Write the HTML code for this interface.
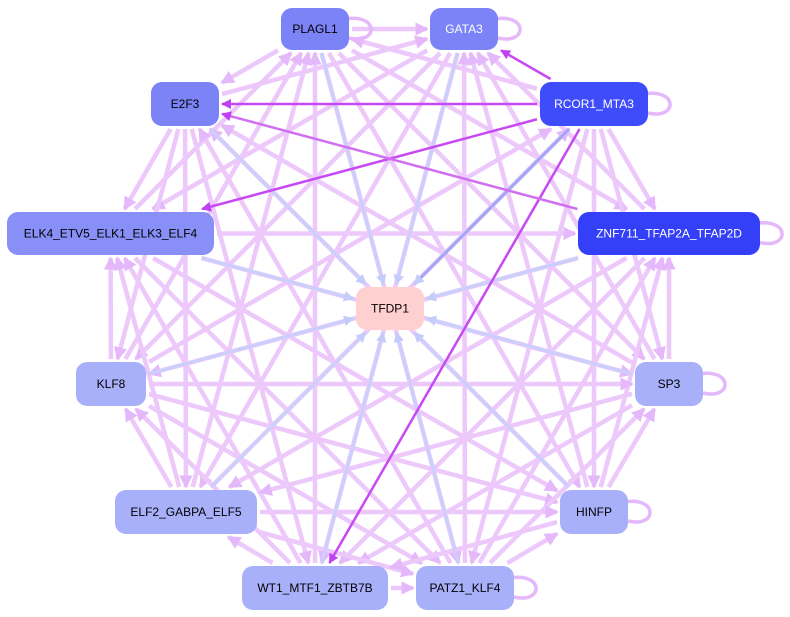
<!DOCTYPE html>
<html><head><meta charset="utf-8"><style>
html,body{margin:0;padding:0;background:#fff;}
svg{display:block;}
text{font-family:"Liberation Sans",sans-serif;font-size:12px;}
</style></head><body>
<svg id="s" width="790" height="617" viewBox="0 0 790 617" xmlns="http://www.w3.org/2000/svg">
<defs>
<marker id="ap" markerWidth="3" markerHeight="3" refX="2.6" refY="1.5" orient="auto" markerUnits="strokeWidth"><path d="M0,0 L3,1.5 L0,3z" fill="#e4b8fa"/></marker>
<marker id="ad" markerWidth="4" markerHeight="4" refX="3.6" refY="2" orient="auto" markerUnits="strokeWidth"><path d="M0,0 L4,2 L0,4z" fill="#c040f4"/></marker>
<marker id="ab" markerWidth="3.5" markerHeight="3.5" refX="3" refY="1.75" orient="auto" markerUnits="strokeWidth"><path d="M0,0 L3.5,1.75 L0,3.5z" fill="#c4ccfa"/></marker>
</defs>
<g id="e"></g>
<g id="n"></g>
</svg>
<script>
var N={
PLAGL1:[281,8,68,42,"#7b83f7","#000"],
GATA3:[430,8,68,42,"#7b83f7","#fff"],
RCOR1_MTA3:[540,82,108,44,"#3f4cfc","#fff"],
E2F3:[151,82,68,44,"#7b83f7","#000"],
ELK4_ETV5_ELK1_ELK3_ELF4:[7,212,207,43,"#8890f8","#000"],
ZNF711_TFAP2A_TFAP2D:[578,212,182,43,"#3340f8","#fff"],
TFDP1:[356,287,68,43,"#ffd0d0","#000"],
KLF8:[76,362,70,44,"#a8b0fa","#000"],
SP3:[635,362,68,44,"#a8b0fa","#000"],
ELF2_GABPA_ELF5:[115,490,142,44,"#a8b0fa","#000"],
HINFP:[560,490,68,44,"#a8b0fa","#000"],
WT1_MTF1_ZBTB7B:[242,566,146,44,"#a8b0fa","#000"],
PATZ1_KLF4:[416,566,98,44,"#a8b0fa","#000"]};
var ns="http://www.w3.org/2000/svg";
function c(k){var b=N[k];return [b[0]+b[2]/2,b[1]+b[3]/2];}
function clipT(k,dx,dy){var b=N[k];var hw=b[2]/2+3,hh=b[3]/2+3;var t=Math.min(hw/Math.abs(dx||1e-9),hh/Math.abs(dy||1e-9));return t;}
var E=document.getElementById("e"),G=document.getElementById("n");
var keys=Object.keys(N).filter(function(k){return k!="TFDP1";});
var dark={"GATA3|RCOR1_MTA3":1,"E2F3|RCOR1_MTA3":1,"ELK4_ETV5_ELK1_ELK3_ELF4|RCOR1_MTA3":1,"WT1_MTF1_ZBTB7B|RCOR1_MTA3":1,"E2F3|ZNF711_TFAP2A_TFAP2D":1};
function line(a,b,col,w,m){var p=c(a),q=c(b);var l=document.createElementNS(ns,"line");
var dx=q[0]-p[0],dy=q[1]-p[1];var t=clipT(b,dx,dy);var t0=clipT(a,dx,dy);
l.setAttribute("x1",p[0]+dx*t0);l.setAttribute("y1",p[1]+dy*t0);l.setAttribute("x2",q[0]-dx*t);l.setAttribute("y2",q[1]-dy*t);
l.setAttribute("stroke",col);l.setAttribute("stroke-width",w);l.setAttribute("marker-end","url(#"+m+")");E.appendChild(l);}
for(var i=0;i<keys.length;i++)for(var j=i+1;j<keys.length;j++){
var a=keys[i],b=keys[j];var k1=a+"|"+b,k2=b+"|"+a;
if(dark[k1]||dark[k2])continue;
if((i+j)%2)line(a,b,"#ecc8fb",4.5,"ap");else line(b,a,"#ecc8fb",4.5,"ap");}
keys.forEach(function(k){line(k,"TFDP1",k=="RCOR1_MTA3"?"#a0a8f4":"#c8d0fb",3,"ab");});
for(var d in dark){var p=d.split("|");line(p[1],p[0],d.indexOf("ZNF")>=0?"#d070f0":"#c848f4",2.5,"ad");}
["PLAGL1","GATA3","RCOR1_MTA3","ZNF711_TFAP2A_TFAP2D","SP3","HINFP","PATZ1_KLF4"].forEach(function(k){
var b=N[k];var x=b[0]+b[2],y=b[1]+b[3]/2;var pa=document.createElementNS(ns,"path");
pa.setAttribute("d","M"+(x-4)+","+(y-10)+" C"+(x+30)+","+(y-16)+" "+(x+30)+","+(y+16)+" "+(x)+","+(y+9));
pa.setAttribute("fill","none");pa.setAttribute("stroke","#e4b8fa");pa.setAttribute("stroke-width",3.5);E.appendChild(pa);});
for(var k in N){var b=N[k];var r=document.createElementNS(ns,"rect");
r.setAttribute("x",b[0]);r.setAttribute("y",b[1]);r.setAttribute("width",b[2]);r.setAttribute("height",b[3]);
r.setAttribute("rx",11);r.setAttribute("fill",b[4]);G.appendChild(r);
var t=document.createElementNS(ns,"text");t.setAttribute("x",b[0]+b[2]/2);t.setAttribute("y",b[1]+b[3]/2+4);
t.setAttribute("text-anchor","middle");t.setAttribute("fill",b[5]);t.textContent=k;G.appendChild(t);}
</script>
</body></html>
